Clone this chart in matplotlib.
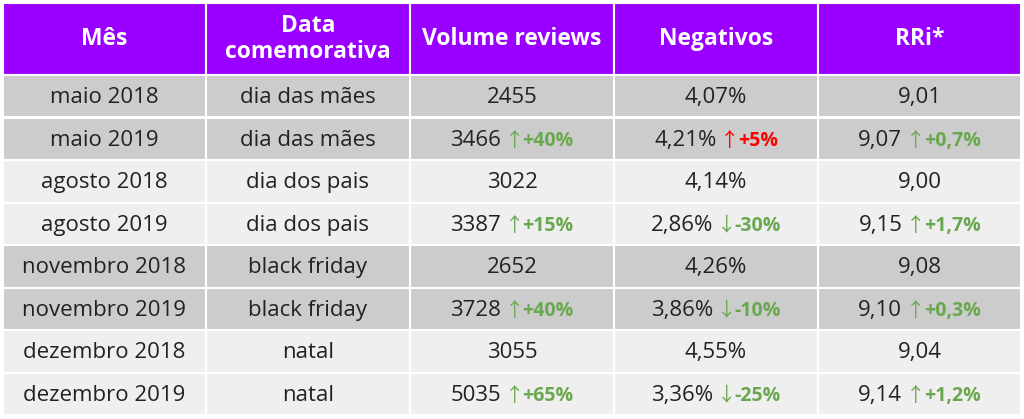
import matplotlib
matplotlib.use('Agg')
import matplotlib.pyplot as plt
from matplotlib.patches import Rectangle
from matplotlib.offsetbox import TextArea, HPacker, AnnotationBbox

plt.rcParams['font.family'] = ['Open Sans', 'DejaVu Sans']

# dados da tabela
colunas = ['Mês', 'Data\ncomemorativa', 'Volume reviews', 'Negativos', 'RRi*']
meses = ['maio 2018', 'maio 2019', 'agosto 2018', 'agosto 2019',
         'novembro 2018', 'novembro 2019', 'dezembro 2018', 'dezembro 2019']
datas = ['dia das mães', 'dia das mães', 'dia dos pais', 'dia dos pais',
         'black friday', 'black friday', 'natal', 'natal']
volume = ['2455', '3466', '3022', '3387', '2652', '3728', '3055', '5035']
volume_var = ['', '+40%', '', '+15%', '', '+40%', '', '+65%']
negativos = ['4,07%', '4,21%', '4,14%', '2,86%', '4,26%', '3,86%', '4,55%', '3,36%']
negativos_var = ['', '+5%', '', '-30%', '', '-10%', '', '-25%']
rri = ['9,01', '9,07', '9,00', '9,15', '9,08', '9,10', '9,04', '9,14']
rri_var = ['', '+0,7%', '', '+1,7%', '', '+0,3%', '', '+1,2%']

# layout (pixels)
col_x = [3, 206, 410, 614, 818, 1021]
header_top, header_bot = 3, 75
row_h = 42.5

roxo = '#9900ff'
cinza = ['#cccccc', '#cccccc', '#efefef', '#efefef']
verde = '#6aa84f'
vermelho = '#ff0000'
texto = '#222222'

fig = plt.figure(figsize=(10.24, 4.19), dpi=100)
ax = fig.add_axes([0, 0, 1, 1])
ax.set_xlim(0, 1024)
ax.set_ylim(419, 0)
ax.axis('off')

# cabecalho
for j, nome in enumerate(colunas):
    x0, x1 = col_x[j], col_x[j + 1]
    ax.add_patch(Rectangle((x0, header_top), x1 - x0, header_bot - header_top,
                           facecolor=roxo, edgecolor='white', lw=1.5))
    ax.text((x0 + x1) / 2, (header_top + header_bot) / 2, nome, color='white',
            fontsize=16.5, fontweight='bold', ha='center', va='center', linespacing=1.1)


def celula(xc, yc, valor, var, cor_var):
    partes = [TextArea(valor, textprops=dict(fontsize=16, color=texto))]
    if var:
        seta = '↑' if var.startswith('+') else '↓'
        extra = HPacker(children=[
            TextArea(seta, textprops=dict(fontsize=14, color=cor_var,
                                          family=['Noto Sans CJK SC', 'DejaVu Sans'])),
            TextArea(var, textprops=dict(fontsize=14, color=cor_var, fontweight='bold')),
        ], sep=-1, align='baseline', pad=0)
        partes.append(extra)
    box = HPacker(children=partes, sep=2.5, align='baseline', pad=0)
    ab = AnnotationBbox(box, (xc, yc), frameon=False, box_alignment=(0.5, 0.5), pad=0)
    ax.add_artist(ab)


colunas_dados = [meses, datas, volume, negativos, rri]
variacoes = [None, None, volume_var, negativos_var, rri_var]

for i in range(len(meses)):
    y0 = header_bot + i * row_h
    yc = y0 + row_h / 2 + 1.5
    for j in range(5):
        x0, x1 = col_x[j], col_x[j + 1]
        ax.add_patch(Rectangle((x0, y0), x1 - x0, row_h,
                               facecolor=cinza[i % 4], edgecolor='white', lw=1.5))
        var = variacoes[j][i] if variacoes[j] else ''
        if j == 3:
            cor = vermelho if var.startswith('+') else verde
        else:
            cor = verde
        celula((x0 + x1) / 2, yc, colunas_dados[j][i], var, cor)

fig.savefig('out.png', dpi=100, facecolor='white')
